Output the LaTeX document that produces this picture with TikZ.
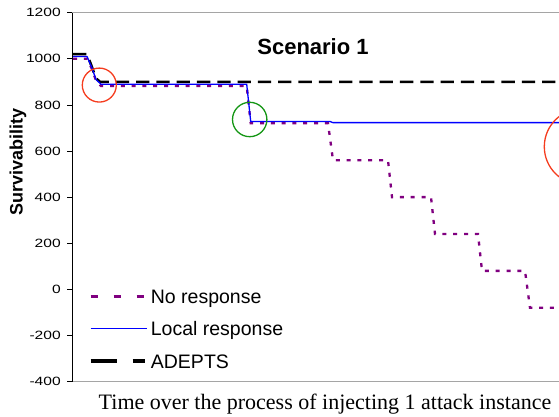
\documentclass[tikz,border=0pt]{standalone}
\usepackage{fontspec}
\setmainfont{Liberation Serif}
\setsansfont{Liberation Sans}
\definecolor{circred}{RGB}{245,60,30}
\definecolor{circgreen}{RGB}{20,150,20}
\definecolor{framegray}{RGB}{165,165,165}
\definecolor{nopurple}{RGB}{128,0,128}
\definecolor{locblue}{RGB}{0,0,255}
\tikzset{
	ticklab/.style={anchor=east, inner sep=0pt, font=\sffamily\fontsize{12}{12}\selectfont, xscale=1.3},
	leglab/.style={anchor=west, inner sep=0pt, font=\sffamily\fontsize{19.5}{20}\selectfont},
	noresp/.style={color=nopurple, line width=2.3pt, dash pattern=on 4pt off 6.8pt},
	locresp/.style={color=locblue, line width=1.3pt},
	adepts/.style={color=black, line width=2.6pt, dash pattern=on 13.3pt off 7pt},
	mark circle/.style={line width=1.3pt}
}
\begin{document}
\begin{tikzpicture}[x=1pt, y=0.2305pt]
			\useasboundingbox (0,-554) rectangle (559,1255.1);
			% frame and axis
			\draw[framegray, line width=1pt] (72,1200) -- (559,1200);
			\draw[framegray, line width=1pt] (72,-400) -- (559,-400);
			\draw[line width=1pt] (72,-400) -- (72,1200);
			\foreach \v [count=\k] in {-400,-200,...,1200}{
				\draw[line width=0.8pt] (67,\v) -- (72,\v);
				\node[ticklab] (tick\k) at (61,\v) {\v};
			}

			% curves
			\draw[adepts] (73,1020) -- (87,1020) -- (91,975) -- (96,915) -- (100,900) -- (565,900);
			\draw[noresp] (73,1000) -- (87,1000) -- (92,955) -- (96,905) -- (101,882) -- (246.7,882) -- (250.7,720) -- (328,720) -- (333,560) -- (388,560) -- (392,400) -- (431,400) -- (435,240) -- (478,240) -- (482,80) -- (525,80) -- (530,-80) -- (565,-80);
			\draw[locresp] (73,1010) -- (87,1010) -- (92,960) -- (96,910) -- (101,890) -- (246.7,890) -- (250.7,728) -- (330,728) -- (333,723) -- (565,723);

			% marked spots
			\draw[mark circle, circred] (99.3,886) circle[radius=17pt];
			\draw[mark circle, circgreen] (249.7,736.7) circle[radius=17.2pt];
			\draw[mark circle, circred] (582.3,618.7) circle[radius=38pt];

			% legend
			\node[leglab] (leg1) at (150.7,-42) {No response};
			\node[leglab] (leg2) at (150.7,-180) {Local response};
			\node[leglab] (leg3) at (150.7,-316) {ADEPTS};
			\draw[color=nopurple, line width=3pt, dash pattern=on 7.6pt off 15.4pt] ([xshift=-60pt,yshift=2pt]leg1.west) -- ([xshift=-5.7pt,yshift=2pt]leg1.west);
			\draw[locresp] ([xshift=-60pt,yshift=2pt]leg2.west) -- ([xshift=-4pt,yshift=2pt]leg2.west);
			\draw[color=black, line width=3.5pt, dash pattern=on 26pt off 16pt] ([xshift=-60pt,yshift=1pt]leg3.west) -- ([xshift=-5.7pt,yshift=1pt]leg3.west);

			% texts
			\node[font=\sffamily\bfseries\fontsize{22}{22}\selectfont] (scen) at (313,1051) {Scenario 1};
			\node[font=\sffamily\bfseries\fontsize{18}{18}\selectfont, rotate=90] (ylab) at (18,552) {Survivability};
			\node[font=\fontsize{22}{22}\selectfont] (xlab) at (325,-497.6) {Time over the process of injecting 1 attack instance};

		\end{tikzpicture}
\end{document}
